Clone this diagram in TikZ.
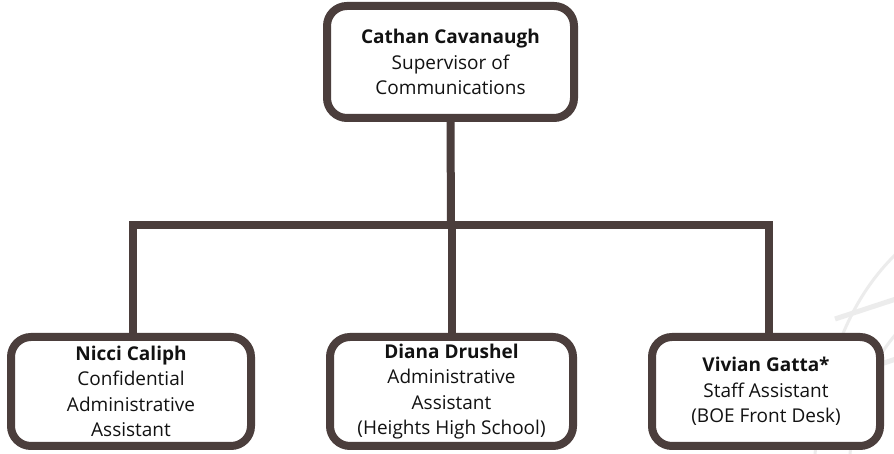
\documentclass[tikz,border=0pt]{standalone}
\usepackage{fontspec}
\setmainfont{Open Sans}
\begin{document}
\definecolor{framebrown}{RGB}{75,62,60}
\definecolor{inkdark}{RGB}{18,18,18}
\definecolor{marklight}{RGB}{236,236,236}
\begin{tikzpicture}[x=1pt,y=1pt,
  orgbox/.style={draw=framebrown, line width=8pt, rounded corners=20pt,
    fill=white, align=center, text=inkdark, inner sep=0pt,
    font=\fontsize{19}{25.5}\selectfont},
  link/.style={draw=framebrown, line width=8pt}]
  \useasboundingbox (0,0) rectangle (894,454);
  \fill[white] (0,0) rectangle (894,454);
  % faint globe mark in the lower right corner
  \begin{scope}
    \clip (0,0) rectangle (894,454);
    \draw[marklight, line width=3pt] (896,200) .. controls (855,160) and (825,100) .. (815,0);
    \draw[marklight, line width=3pt] (896,120) .. controls (870,90) and (855,50) .. (850,0);
    \draw[marklight, line width=5pt] (835,135) -- (896,155);
    \draw[marklight, line width=5pt] (820,70) -- (896,95);
  \end{scope}
  % boxes
  \node[orgbox, minimum width=247pt, minimum height=112pt] (top) at (450.5,392)
    {\textbf{Cathan Cavanaugh}\\Supervisor of\\Communications};
  \node[orgbox, minimum width=240pt, minimum height=109pt] (nicci) at (131,62.5)
    {\textbf{Nicci Caliph}\\Confidential\\Administrative\\Assistant};
  \node[orgbox, minimum width=243pt, minimum height=109pt] (diana) at (451.5,62.5)
    {\textbf{Diana Drushel}\\Administrative\\Assistant\\(Heights High School)};
  \node[orgbox, minimum width=228pt, minimum height=109pt] (vivian) at (766,62.5)
    {\textbf{Vivian Gatta*}\\Staff Assistant\\(BOE Front Desk)};
  % connectors: trunk from the supervisor down to the bus, then branches
  \coordinate (bus) at (451,229);
  \draw[link] (top.south) -- (bus);
  \draw[link] (nicci.north -| 133,0) |- (bus);
  \draw[link] (vivian.north -| 769,0) |- (bus);
  \draw[link] (diana.north) -- (diana.north |- bus);
\end{tikzpicture}
\end{document}
